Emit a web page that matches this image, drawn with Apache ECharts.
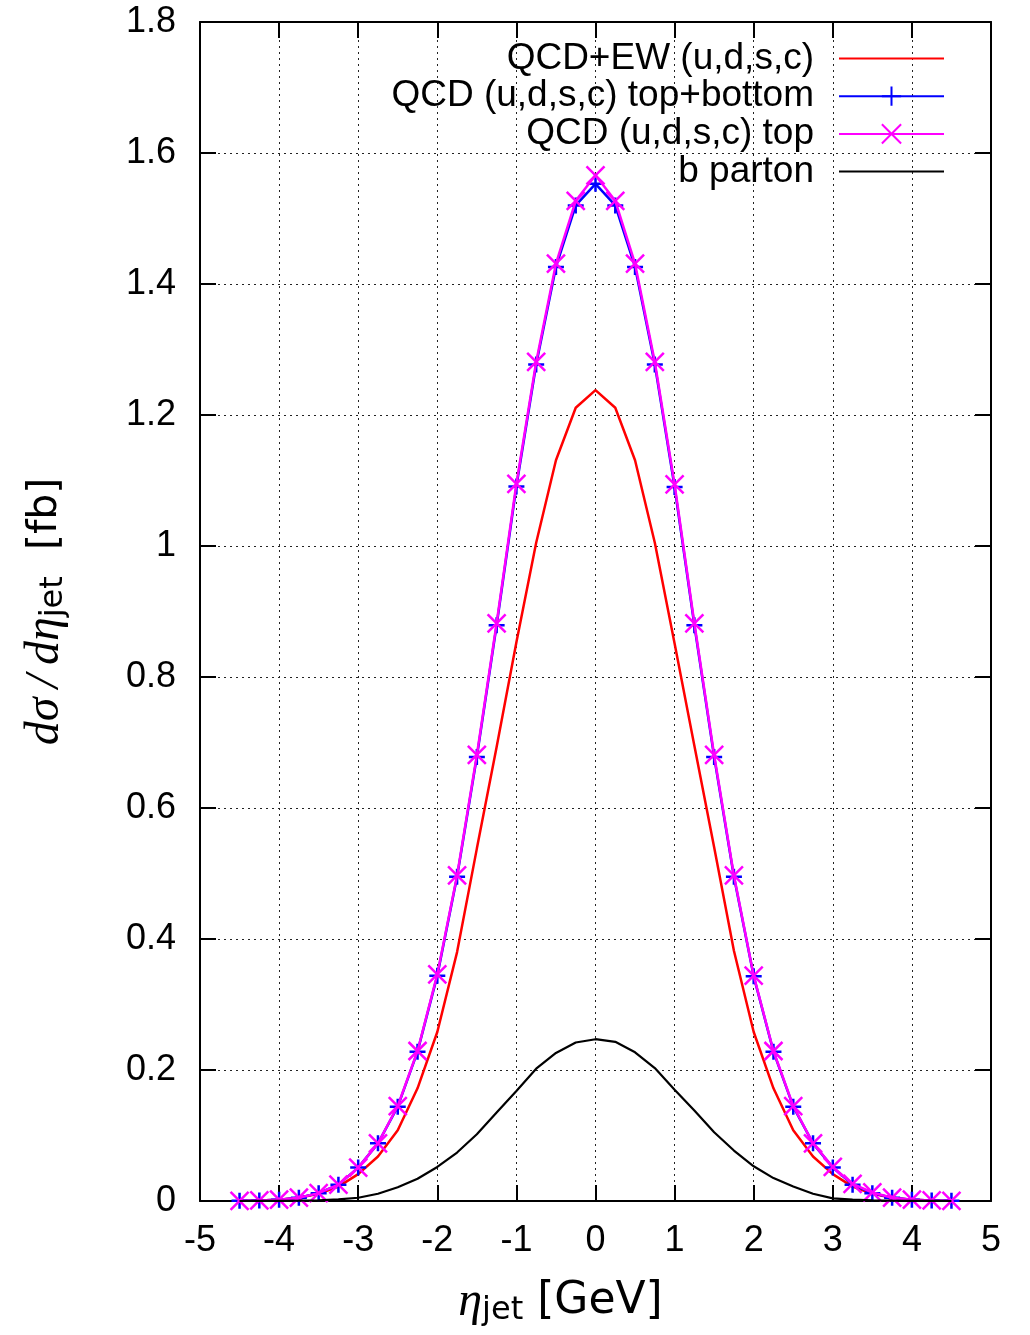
<!DOCTYPE html>
<html>
<head>
<meta charset="utf-8">
<script src="https://cdn.jsdelivr.net/npm/echarts@6/dist/echarts.min.js"></script>
<style>
  html, body { margin: 0; padding: 0; background: #fff; }
  #chart { width: 1030px; height: 1335px; }
</style>
</head>
<body>
<div id="chart"></div>
<script>
// eta_jet bin centres
const etaValues = [-4.5, -4.25, -4, -3.75, -3.5, -3.25, -3, -2.75, -2.5, -2.25, -2, -1.75, -1.5, -1.25, -1, -0.75, -0.5, -0.25,
  0, 0.25, 0.5, 0.75, 1, 1.25, 1.5, 1.75, 2, 2.25, 2.5, 2.75, 3, 3.25, 3.5, 3.75, 4, 4.25, 4.5];

// QCD+EW (u,d,s,c)
const qcdEw = [0.0002, 0.0007, 0.002, 0.005, 0.011, 0.022, 0.041, 0.068, 0.108, 0.172, 0.258, 0.38, 0.538, 0.693, 0.853, 1.005, 1.131, 1.211,
  1.238, 1.211, 1.131, 1.005, 0.851, 0.695, 0.54, 0.382, 0.258, 0.172, 0.108, 0.068, 0.041, 0.022, 0.011, 0.005, 0.002, 0.0007, 0.0002];

// QCD (u,d,s,c) top+bottom
const qcdTopBottom = [0.0003, 0.0008, 0.002, 0.005, 0.012, 0.025, 0.051, 0.088, 0.144, 0.228, 0.344, 0.495, 0.678, 0.879, 1.091, 1.277, 1.426, 1.52,
  1.553, 1.52, 1.426, 1.277, 1.09, 0.879, 0.678, 0.495, 0.343, 0.228, 0.144, 0.088, 0.051, 0.025, 0.012, 0.005, 0.002, 0.0008, 0.0003];

// QCD (u,d,s,c) top
const qcdTop = [0.0003, 0.0008, 0.002, 0.005, 0.012, 0.025, 0.051, 0.088, 0.145, 0.229, 0.346, 0.497, 0.681, 0.882, 1.095, 1.281, 1.431, 1.527,
  1.566, 1.527, 1.431, 1.281, 1.094, 0.882, 0.681, 0.497, 0.344, 0.229, 0.145, 0.088, 0.052, 0.026, 0.013, 0.005, 0.002, 0.0008, 0.0003];

// b parton
const bParton = [0, 0.0001, 0.0002, 0.0005, 0.001, 0.0025, 0.005, 0.011, 0.021, 0.034, 0.052, 0.074, 0.102, 0.135, 0.168, 0.202, 0.226, 0.242,
  0.247, 0.243, 0.227, 0.203, 0.17, 0.138, 0.105, 0.077, 0.053, 0.035, 0.022, 0.011, 0.004, 0.002, 0.001, 0.0005, 0.0002, 0.0001, 0];

const seriesNames = ["QCD+EW (u,d,s,c)", "QCD (u,d,s,c) top+bottom", "QCD (u,d,s,c) top", "b parton"];

function pairs(ys) {
  return etaValues.map((x, i) => [x, ys[i]]);
}

const sans = "'Liberation Sans', Arial, Helvetica, sans-serif";
const chart = echarts.init(document.getElementById("chart"));

const gridLine = { show: true, lineStyle: { color: "#222", width: 1, type: [2, 4] } };
const axisLine = { show: true, onZero: false, lineStyle: { color: "#000", width: 2 } };
const tick = { show: true, inside: true, length: 16, lineStyle: { color: "#000", width: 2 } };

const option = {
  animation: false,
  backgroundColor: "#fff",
  grid: { left: 200, top: 22, right: 39, bottom: 134, outerBoundsMode: "none" },
  legend: {
    orient: "vertical",
    right: 85,
    top: 40,
    padding: 0,
    align: "right",
    itemWidth: 105,
    itemHeight: 24,
    itemGap: 0.7,
    selectedMode: false,
    textStyle: { fontSize: 37, fontFamily: sans, color: "#000", padding: [0, 20, 0, 0] },
    data: [
      { name: seriesNames[0], itemStyle: { opacity: 0 } },
      { name: seriesNames[1] },
      { name: seriesNames[2] },
      { name: seriesNames[3], itemStyle: { opacity: 0 } }
    ]
  },
  xAxis: [
    {
      type: "value",
      position: "bottom",
      min: -5,
      max: 5,
      interval: 1,
      axisLine: axisLine,
      axisTick: tick,
      splitLine: gridLine,
      axisLabel: { fontSize: 36, fontFamily: sans, color: "#000", margin: 22, showMinLabel: true, showMaxLabel: true },
      name: "{m|η}{s|jet}{n| [GeV]}",
      nameLocation: "middle",
      nameGap: 76,
      nameTextStyle: {
        padding: [0, 70, 0, 0],
        rich: {
          m: { fontSize: 48, fontFamily: "'Liberation Serif', serif", fontStyle: "italic", color: "#000" },
          s: { fontSize: 32, fontFamily: "'DejaVu Sans', sans-serif", color: "#000", padding: [18, 0, 0, 0] },
          n: { fontSize: 44, fontFamily: "'DejaVu Sans', sans-serif", color: "#000" }
        }
      }
    },
    {
      type: "value",
      position: "top",
      min: -5,
      max: 5,
      interval: 1,
      axisLine: axisLine,
      axisTick: tick,
      splitLine: { show: false },
      axisLabel: { show: false }
    }
  ],
  yAxis: [
    {
      type: "value",
      position: "left",
      min: 0,
      max: 1.8,
      interval: 0.2,
      axisLine: axisLine,
      axisTick: tick,
      splitLine: gridLine,
      axisLabel: { fontSize: 36, fontFamily: sans, color: "#000", margin: 24, showMinLabel: true, showMaxLabel: true },
      name: "{m|dσ\u2009/\u2009dη}{s|jet}{n|  [fb]}",
      nameLocation: "middle",
      nameRotate: 90,
      nameGap: 130,
      nameTextStyle: {
        rich: {
          m: { fontSize: 48, fontFamily: "'Liberation Serif', serif", fontStyle: "italic", color: "#000" },
          s: { fontSize: 32, fontFamily: "'DejaVu Sans', sans-serif", color: "#000", padding: [18, 0, 0, 0] },
          n: { fontSize: 41, fontFamily: "'DejaVu Sans', sans-serif", color: "#000" }
        }
      }
    },
    {
      type: "value",
      position: "right",
      min: 0,
      max: 1.8,
      interval: 0.2,
      axisLine: axisLine,
      axisTick: tick,
      splitLine: { show: false },
      axisLabel: { show: false }
    }
  ],
  series: [
    {
      name: seriesNames[0],
      type: "line",
      data: pairs(qcdEw),
      symbol: "none",
      lineStyle: { color: "#ff0000", width: 2.5 },
      itemStyle: { color: "#ff0000" },
      emphasis: { disabled: true },
      z: 2
    },
    {
      name: seriesNames[1],
      type: "line",
      data: pairs(qcdTopBottom),
      symbol: "path://M0,5L10,5M5,0L5,10",
      symbolSize: 16,
      lineStyle: { color: "#0000ff", width: 2.5 },
      itemStyle: { color: "#0000ff", borderColor: "#0000ff", borderWidth: 2.5 },
      emphasis: { disabled: true },
      z: 3
    },
    {
      name: seriesNames[2],
      type: "line",
      data: pairs(qcdTop),
      symbol: "path://M0,0L10,10M10,0L0,10",
      symbolSize: 18,
      lineStyle: { color: "#ff00ff", width: 2.5 },
      itemStyle: { color: "#ff00ff", borderColor: "#ff00ff", borderWidth: 2.5 },
      emphasis: { disabled: true },
      z: 4
    },
    {
      name: seriesNames[3],
      type: "line",
      data: pairs(bParton),
      symbol: "none",
      lineStyle: { color: "#000000", width: 2.2 },
      itemStyle: { color: "#000000" },
      emphasis: { disabled: true },
      z: 5
    }
  ]
};

chart.setOption(option);
</script>
</body>
</html>
